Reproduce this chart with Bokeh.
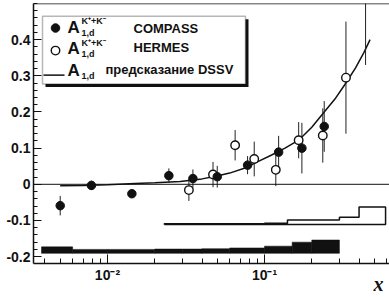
import numpy as np
from bokeh.plotting import figure
from bokeh.models import Range1d, FixedTicker, Span, Label, BoxAnnotation
from bokeh.embed import file_html
from bokeh.resources import INLINE

# ---------------- data ----------------
compass_x = [0.0050, 0.0079, 0.0143, 0.0246, 0.035, 0.050, 0.078, 0.123, 0.173, 0.24]
compass_y = [-0.059, -0.003, -0.026, 0.024, 0.016, 0.021, 0.053, 0.089, 0.100, 0.160]
compass_err = [0.027, 0.013, 0.008, 0.020, 0.025, 0.030, 0.025, 0.045, 0.070, 0.070]

hermes_x = [0.033, 0.047, 0.065, 0.086, 0.118, 0.165, 0.235, 0.33, 0.44]
hermes_y = [-0.016, 0.027, 0.108, 0.070, 0.040, 0.122, 0.135, 0.295, 0.55]
hermes_err = [0.030, 0.035, 0.042, 0.048, 0.045, 0.050, 0.075, 0.155, 0.22]

dssv_x = [0.005, 0.007, 0.01, 0.015, 0.02, 0.029, 0.04, 0.049, 0.06, 0.076, 0.09,
          0.111, 0.135, 0.165, 0.2, 0.24, 0.28, 0.325, 0.38, 0.43, 0.47]
dssv_y = [-0.004, -0.003, -0.001, 0.002, 0.004, 0.008, 0.015, 0.022, 0.031, 0.046, 0.062,
          0.081, 0.100, 0.122, 0.158, 0.200, 0.235, 0.276, 0.322, 0.365, 0.400]

hermes_sys_edges = [0.023, 0.04, 0.06, 0.1, 0.14, 0.3, 0.4, 0.59]
hermes_sys_h = [0.002, 0.002, 0.002, 0.003, 0.012, 0.020, 0.048]
hermes_sys_base = -0.111

compass_sys_edges = [0.0038, 0.006, 0.01, 0.02, 0.03, 0.04, 0.06, 0.1, 0.15, 0.2, 0.3]
compass_sys_h = [0.018, 0.011, 0.011, 0.012, 0.012, 0.013, 0.015, 0.020, 0.031, 0.037]
compass_sys_base = -0.191

x_tick_values = [0.01, 0.1]
x_tick_labels = ["10\u207b\u00b2", "10\u207b\u00b9"]
x_minor = [0.004, 0.005, 0.006, 0.007, 0.008, 0.009,
           0.02, 0.03, 0.04, 0.05, 0.06, 0.07, 0.08, 0.09,
           0.2, 0.3, 0.4, 0.5, 0.6]
y_tick_values = [-0.2, -0.1, 0, 0.1, 0.2, 0.3, 0.4]
y_tick_labels = ["-0.2", "-0.1", "0", "0.1", "0.2", "0.3", "0.4"]
y_minor = [round(-0.22 + 0.02 * i, 2) for i in range(37)]

legend_names = ["COMPASS", "HERMES", "предсказание DSSV"]
x_title = "x"

# ---------------- layout ----------------
X0, X1 = 0.00338, 0.625
Y0, Y1 = -0.219, 0.500
LEFT, TOP, FW, FH = 33, 3, 356, 265   # frame position on page (px)

def px_x(px):
    lx0, lx1 = np.log10(X0), np.log10(X1)
    return 10 ** (lx0 + (px - LEFT) / FW * (lx1 - lx0))

def px_y(py):
    return Y1 - (py - TOP) / FH * (Y1 - Y0)

FONT = "Liberation Sans"
INK = "#111111"

p = figure(width=389, height=297, x_axis_type="log",
           x_range=Range1d(X0, X1), y_range=Range1d(Y0, Y1),
           output_backend="svg", toolbar_location=None,
           min_border_left=33, min_border_right=0, min_border_top=3, min_border_bottom=29)
p.background_fill_color = "white"
p.border_fill_color = "white"
p.outline_line_color = None
p.xgrid.visible = False
p.ygrid.visible = False

for ax in (p.xaxis[0], p.yaxis[0]):
    ax.axis_line_color = INK
    ax.axis_line_width = 1.5
    ax.major_tick_line_color = INK
    ax.minor_tick_line_color = INK
    ax.major_tick_out = 0
    ax.minor_tick_out = 0
    ax.major_label_text_font = FONT
    ax.major_label_text_font_style = "bold"
    ax.major_label_text_color = INK
    ax.major_label_text_font_size = "14px"

p.xaxis.ticker = FixedTicker(ticks=x_tick_values, minor_ticks=x_minor)
p.xaxis.major_label_overrides = dict(zip(x_tick_values, x_tick_labels))
p.xaxis.major_tick_in = 9
p.xaxis.minor_tick_in = 5
p.xaxis.major_label_standoff = 3

# axis title "x" at the right end of the axis: centred label padded with em spaces
p.xaxis.axis_label = "\u2003" * 16 + "\u2002\u2009" + x_title
p.xaxis.axis_label_text_font = "Liberation Serif"
p.xaxis.axis_label_text_font_style = "bold italic"
p.xaxis.axis_label_text_font_size = "20px"
p.xaxis.axis_label_text_color = INK
p.xaxis.axis_label_standoff = -13

p.yaxis.ticker = FixedTicker(ticks=y_tick_values, minor_ticks=y_minor)
p.yaxis.major_label_overrides = dict(zip(y_tick_values, y_tick_labels))
p.yaxis.major_tick_in = 8
p.yaxis.minor_tick_in = 4
p.yaxis.major_label_standoff = 3

# top frame line and zero line
p.add_layout(Span(location=Y1, dimension="width", line_color=INK, line_width=1.5))
p.add_layout(Span(location=0, dimension="width", line_color=INK, line_width=1))

# systematic bands
p.quad(left=compass_sys_edges[:-1], right=compass_sys_edges[1:],
       bottom=compass_sys_base,
       top=[compass_sys_base + h for h in compass_sys_h],
       fill_color=INK, line_color=INK, line_width=0.5)

hx = [hermes_sys_edges[0]]
hy = [hermes_sys_base]
for i, h in enumerate(hermes_sys_h):
    hx += [hermes_sys_edges[i], hermes_sys_edges[i + 1]]
    hy += [hermes_sys_base + h, hermes_sys_base + h]
hx += [hermes_sys_edges[-1], hermes_sys_edges[0]]
hy += [hermes_sys_base, hermes_sys_base]
p.line(hx, hy, line_color=INK, line_width=1.5)

# DSSV curve
p.line(dssv_x, dssv_y, line_color=INK, line_width=1.5)

# error bars
p.segment(x0=compass_x, x1=compass_x,
          y0=[y - e for y, e in zip(compass_y, compass_err)],
          y1=[y + e for y, e in zip(compass_y, compass_err)],
          line_color="#222222", line_width=1)
p.segment(x0=hermes_x, x1=hermes_x,
          y0=[y - e for y, e in zip(hermes_y, hermes_err)],
          y1=[y + e for y, e in zip(hermes_y, hermes_err)],
          line_color="#222222", line_width=1)

# markers
p.scatter(hermes_x, hermes_y, size=8.5, marker="circle",
          fill_color="white", line_color=INK, line_width=1.4)
p.scatter(compass_x, compass_y, size=8.5, marker="circle",
          fill_color=INK, line_color=INK)

# ---------------- legend ----------------
p.add_layout(BoxAnnotation(left=px_x(45), right=px_x(248), top=px_y(19), bottom=px_y(88),
                           fill_color=INK, fill_alpha=1, line_color=None))
p.add_layout(BoxAnnotation(left=px_x(42), right=px_x(245), top=px_y(16), bottom=px_y(85),
                           fill_color="white", fill_alpha=1, line_color=INK, line_width=1.5))

r1 = p.scatter([px_x(55)], [px_y(28)], size=8.5, marker="circle", fill_color=INK, line_color=INK)
r2 = p.scatter([px_x(55)], [px_y(51)], size=8.5, marker="circle", fill_color="white",
               line_color=INK, line_width=1.4)
r3 = p.line([px_x(43), px_x(64)], [px_y(76), px_y(76)], line_color=INK, line_width=1.5)
for r in (r1, r2, r3):
    r.level = "overlay"

def lab(text, px, py, size, style="bold", font=FONT):
    p.add_layout(Label(x=px_x(px), y=px_y(py), text=text, text_font=font,
                       text_font_size=size, text_font_style=style, text_color=INK,
                       text_baseline="middle", text_align="left", level="overlay"))

rows = [(27, 21, 33, 28), (49, 43, 54, 48)]
for (ya, ys, yb, yn), name in zip(rows, legend_names[:2]):
    lab("A", 67, ya, "17px")
    lab("K\u207a+K\u207b", 81, ys, "9px")
    lab("1,d", 81, yb, "9px")
    lab(name, 133, yn, "13px")
lab("A", 67, 71, "17px")
lab("1,d", 81, 77, "9px")
lab(legend_names[2], 105, 70, "13px")

open("out.html", "w").write(file_html(p, INLINE))
